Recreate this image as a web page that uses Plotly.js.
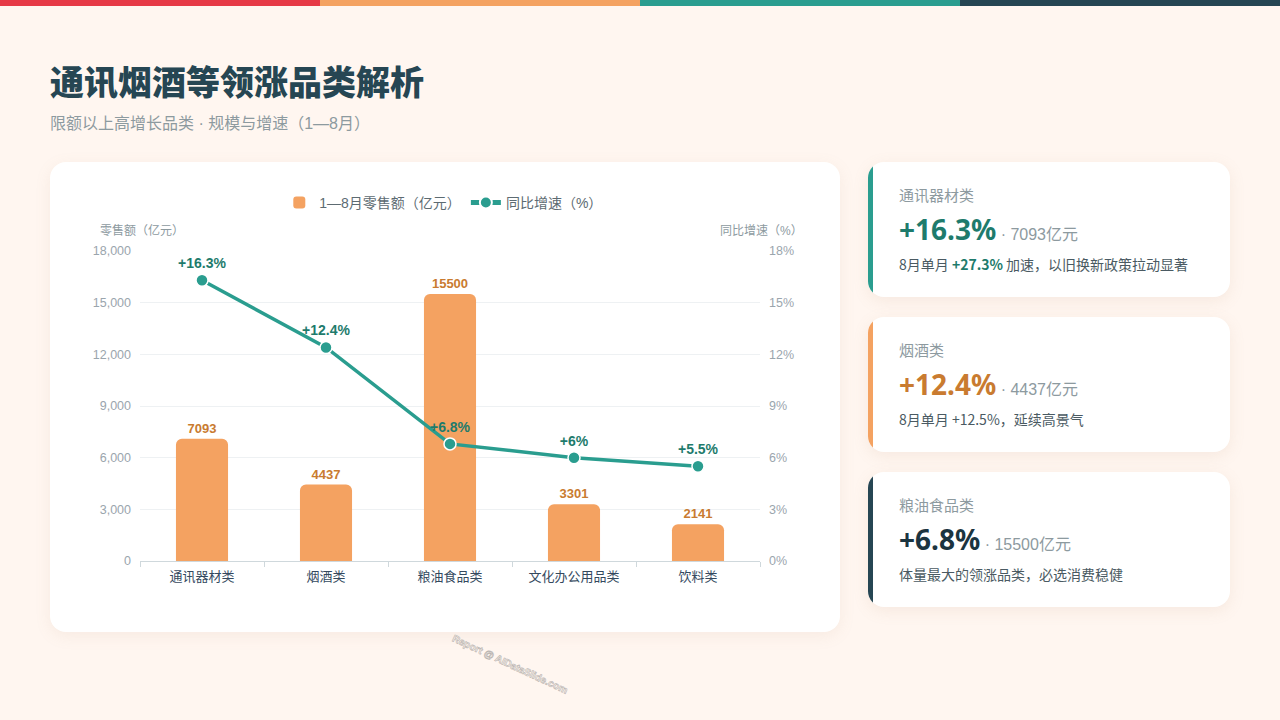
<!DOCTYPE html>
<html><head><meta charset="utf-8">
<script src="https://cdn.plot.ly/plotly-3.0.1.min.js"></script>
<style>
html,body{margin:0;padding:0;}
body{width:1280px;height:720px;background:#FFF6F0;position:relative;overflow:hidden;font-family:"Liberation Sans","Noto Sans CJK SC",sans-serif;}
.stripe{position:absolute;top:0;height:6px;width:320px;}
.title{position:absolute;left:50px;top:58px;font-family:"Noto Sans CJK SC",sans-serif;font-weight:900;font-size:34px;color:#264653;line-height:46px;}
.sub{position:absolute;left:50px;top:112px;font-family:"Liberation Sans","Noto Sans CJK SC",sans-serif;font-size:16px;color:#8d9a9f;line-height:24px;}
.chartcard{position:absolute;left:50px;top:162px;width:790px;height:470px;background:#fff;border-radius:16px;box-shadow:0 4px 16px rgba(180,140,110,0.10);}
#chart{position:absolute;left:0;top:0;width:790px;height:470px;}
.card{position:absolute;left:868px;width:362px;height:135px;background:#fff;border-radius:16px;box-shadow:0 4px 16px rgba(180,140,110,0.12);overflow:hidden;font-family:"Noto Sans CJK SC",sans-serif;}
.card .bar{position:absolute;left:0;top:0;bottom:0;width:5px;}
.card .lab{position:absolute;left:31px;top:22px;font-size:15px;color:#8d9a9f;line-height:22px;}
.card .big{position:absolute;left:31px;top:47px;line-height:40px;white-space:nowrap;}
.card .big b{font-family:"Noto Sans","Noto Sans CJK SC",sans-serif;font-weight:700;font-size:28px;}
.card .big span{font-family:"Liberation Sans","Noto Sans CJK SC",sans-serif;font-size:16px;color:#8d9a9f;}
.card .desc{position:absolute;left:31px;top:91px;font-size:14px;color:#4a5a62;line-height:22px;white-space:nowrap;}
.wm{position:absolute;left:453px;top:632px;font-family:"Liberation Sans",sans-serif;font-size:10px;font-weight:bold;color:transparent;-webkit-text-stroke:0.6px #b9b4b0;transform:rotate(25deg);transform-origin:left center;white-space:nowrap;}
</style></head>
<body>
<div class="stripe" style="left:0;background:#E63946"></div>
<div class="stripe" style="left:320px;background:#F4A261"></div>
<div class="stripe" style="left:640px;background:#2A9D8F"></div>
<div class="stripe" style="left:960px;background:#264653"></div>
<div class="title">通讯烟酒等领涨品类解析</div>
<div class="sub">限额以上高增长品类 · 规模与增速（1—8月）</div>
<div class="chartcard"><div id="chart"></div></div>

<div class="card" style="top:162px"><div class="bar" style="background:#2A9D8F"></div>
<div class="lab">通讯器材类</div>
<div class="big"><b style="color:#1E7B6C">+16.3%</b><span> · 7093亿元</span></div>
<div class="desc">8月单月 <b style="color:#1E7B6C">+27.3%</b> 加速，以旧换新政策拉动显著</div></div>

<div class="card" style="top:317px"><div class="bar" style="background:#F4A261"></div>
<div class="lab">烟酒类</div>
<div class="big"><b style="color:#C97B30">+12.4%</b><span> · 4437亿元</span></div>
<div class="desc">8月单月 +12.5%，延续高景气</div></div>

<div class="card" style="top:472px"><div class="bar" style="background:#264653"></div>
<div class="lab">粮油食品类</div>
<div class="big"><b style="color:#1B3440">+6.8%</b><span> · 15500亿元</span></div>
<div class="desc">体量最大的领涨品类，必选消费稳健</div></div>

<div class="wm">Report @ AIDataSlide.com</div>

<script>
const categories = ["通讯器材类","烟酒类","粮油食品类","文化办公用品类","饮料类"];
const salesValues = [7093, 4437, 15500, 3301, 2141];
const growthValues = [16.3, 12.4, 6.8, 6.0, 5.5];
const growthLabels = ["+16.3%","+12.4%","+6.8%","+6%","+5.5%"];
const salesName = "1—8月零售额（亿元）";
const growthName = "同比增速（%）";

const F = '"Liberation Sans","Noto Sans CJK SC",sans-serif';
const traces = [
 {type:"bar", x:categories, y:salesValues, name:salesName, width:0.42,
  marker:{color:"#F4A261", cornerradius:6},
  text:salesValues.map(String), textposition:"outside", cliponaxis:false,
  textfont:{family:F, size:13, color:"#C97B30", weight:700}, hoverinfo:"skip"},
 {type:"scatter", mode:"lines+markers+text", x:categories, y:growthValues, yaxis:"y2", name:growthName,
  line:{color:"#2A9D8F", width:3.5},
  marker:{color:"#2A9D8F", size:12, line:{color:"#fff", width:1.5}},
  text:growthLabels, textposition:"top center", cliponaxis:false,
  textfont:{family:F, size:14, color:"#1E7B6C", weight:700}, hoverinfo:"skip"}
];
const layout = {
 width:790, height:470, margin:{l:90, r:80, t:89, b:71},
 paper_bgcolor:"rgba(0,0,0,0)", plot_bgcolor:"rgba(0,0,0,0)",
 font:{family:F, color:"#9aa5ad", size:12},
 showlegend:true,
 legend:{orientation:"h", x:0.49, xanchor:"center", y:1.155, yanchor:"middle",
   font:{family:F, size:14, color:"#5d6b72"}, itemsizing:"constant", traceorder:"normal"},
 xaxis:{type:"category", showgrid:false, showline:true, linecolor:"#cfd8dc", linewidth:1,
   ticks:"outside", tickson:"boundaries", ticklen:5, tickcolor:"#cfd8dc", ticklabelstandoff:3,
   tickfont:{family:F, size:13, color:"#34495e"}, fixedrange:true},
 yaxis:{range:[0,18000], dtick:3000, tickformat:",", gridcolor:"#eef1f3", gridwidth:1,
   zeroline:false, showline:false, tickfont:{family:F, size:12.5, color:"#9aa5ad"}, ticks:"",
   ticklabelstandoff:8, fixedrange:true},
 yaxis2:{range:[0,18], dtick:3, ticksuffix:"%", overlaying:"y", side:"right", showgrid:false,
   zeroline:false, showline:false, tickfont:{family:F, size:12.5, color:"#9aa5ad"},
   ticklabelstandoff:8, fixedrange:true},
 annotations:[
  {text:"零售额（亿元）", xref:"paper", yref:"paper", x:-0.068, y:1.065, xanchor:"left", yanchor:"middle", showarrow:false,
   font:{family:F, size:12, color:"#8d9a9f"}},
  {text:"同比增速（%）", xref:"paper", yref:"paper", x:1.072, y:1.065, xanchor:"right", yanchor:"middle", showarrow:false,
   font:{family:F, size:12, color:"#8d9a9f"}}
 ]
};
Plotly.newPlot("chart", traces, layout, {displayModeBar:false, staticPlot:true});
</script>
</body></html>
